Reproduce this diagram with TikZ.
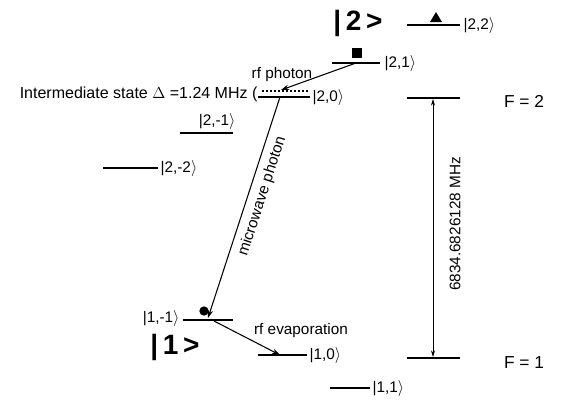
\documentclass[tikz,border=0pt]{standalone}
\usepackage{fontspec}
\setmainfont{Liberation Sans}
\usetikzlibrary{arrows.meta}
\begin{document}
\begin{tikzpicture}[x=0.75pt,y=-0.75pt,
  level/.style={line width=1.6pt},
  lbl/.style={font=\fontsize{11.5}{13}\selectfont, inner sep=1pt},
  hand/.style={font=\fontsize{21}{23}\selectfont\bfseries, inner sep=0pt},
  conn/.style={line width=0.8pt},
  tip/.style={-{Stealth[length=6pt,width=4pt]}},
]
\useasboundingbox[fill=white] (0,0) rectangle (569,408);

% handwritten F labels
\node[hand] (h2) at (358,23) {|\,2\,>};
\node[hand] (h1) at (175,347) {|\,1\,>};

% |2,2>
\coordinate (a22) at (407,25); \coordinate (b22) at (460,25);
\draw[level] (a22) -- (b22);
\fill (430,22) -- (442,22) -- (436,12) -- cycle;
\node[lbl,anchor=west] (t22) at (462,25) {|2,2$\rangle$};

% |2,1>
\coordinate (a21) at (332,63); \coordinate (b21) at (380,63);
\draw[level] (a21) -- (b21);
\node[fill=black, inner sep=0pt, minimum size=7.5pt] (sq) at (357,53) {};
\node[lbl,anchor=west] (t21) at (383,63) {|2,1$\rangle$};

% |2,0> and intermediate
\coordinate (a20) at (258,97); \coordinate (b20) at (310,97);
\draw[level] (a20) -- (b20);
\coordinate (ai) at (262,91); \coordinate (bi) at (308,91);
\draw[line width=1.4pt, dash pattern=on 1.6pt off 1.4pt] (ai) -- (bi);
\node[lbl,anchor=west] (t20) at (311,97) {|2,0$\rangle$};
\node[lbl,anchor=east,font=\fontsize{12}{14}\selectfont] (tint) at (259,94) {Intermediate state $\Delta$ =1.24 MHz (};

% |2,-1>
\coordinate (a2m1) at (180,133); \coordinate (b2m1) at (233,133);
\draw[level] (a2m1) -- (b2m1);
\node[lbl,anchor=south east] (t2m1) at (237,131) {|2,-1$\rangle$};

% |2,-2>
\coordinate (a2m2) at (103,168); \coordinate (b2m2) at (158,168);
\draw[level] (a2m2) -- (b2m2);
\node[lbl,anchor=west] (t2m2) at (159,168) {|2,-2$\rangle$};

% |1,-1>
\coordinate (a1m1) at (183,320); \coordinate (b1m1) at (233,320);
\draw[level] (a1m1) -- (b1m1);
\node[lbl,anchor=east] (t1m1) at (181,318) {|1,-1$\rangle$};

% |1,0>
\coordinate (a10) at (258,355); \coordinate (b10) at (307,355);
\draw[level] (a10) -- (b10);
\node[lbl,anchor=west] (t10) at (308,355) {|1,0$\rangle$};

% |1,1>
\coordinate (a11) at (330,388); \coordinate (b11) at (370,388);
\draw[level] (a11) -- (b11);
\node[lbl,anchor=west] (t11) at (371,388) {|1,1$\rangle$};

% transitions
\coordinate (rfs) at (356,63); \coordinate (rfe) at (281,90);
\draw[conn,tip] (rfs) -- (rfe);
\node[lbl] (trf) at (282,75) {rf photon};

\coordinate (mwt) at (280,97); \coordinate (mwb) at (208,318);
\draw[conn,tip] (mwt) -- (mwb);
\path (mwb) -- (mwt) node[lbl, pos=0.57, sloped, below=4pt] (tmw) {microwave photon};
\node[circle, fill=black, inner sep=0pt, minimum size=7pt] (dot) at (204,311) {};

\coordinate (evs) at (214,321); \coordinate (eve) at (280,355);
\draw[conn,tip] (evs) -- (eve);
\node[lbl] (tev) at (301,331) {rf evaporation};

% hyperfine splitting
\coordinate (f2a) at (407,98); \coordinate (f2b) at (460,98);
\coordinate (f1a) at (407,358); \coordinate (f1b) at (460,358);
\draw[level] (f2a) -- (f2b);
\draw[level] (f1a) -- (f1b);
\coordinate (f2m) at (433,99); \coordinate (f1m) at (433,357);
\draw[line width=0.6pt, {Stealth[length=5pt,width=3pt]}-{Stealth[length=5pt,width=3pt]}] (f2m) -- (f1m);
\node[lbl, rotate=90] (thz) at (455,224) {6834.6826128 MHz};
\node[lbl, font=\fontsize{13}{15}\selectfont] (tf2) at (524,101) {F = 2};
\node[lbl, font=\fontsize{13}{15}\selectfont] (tf1) at (524,363) {F = 1};
\end{tikzpicture}
\end{document}
